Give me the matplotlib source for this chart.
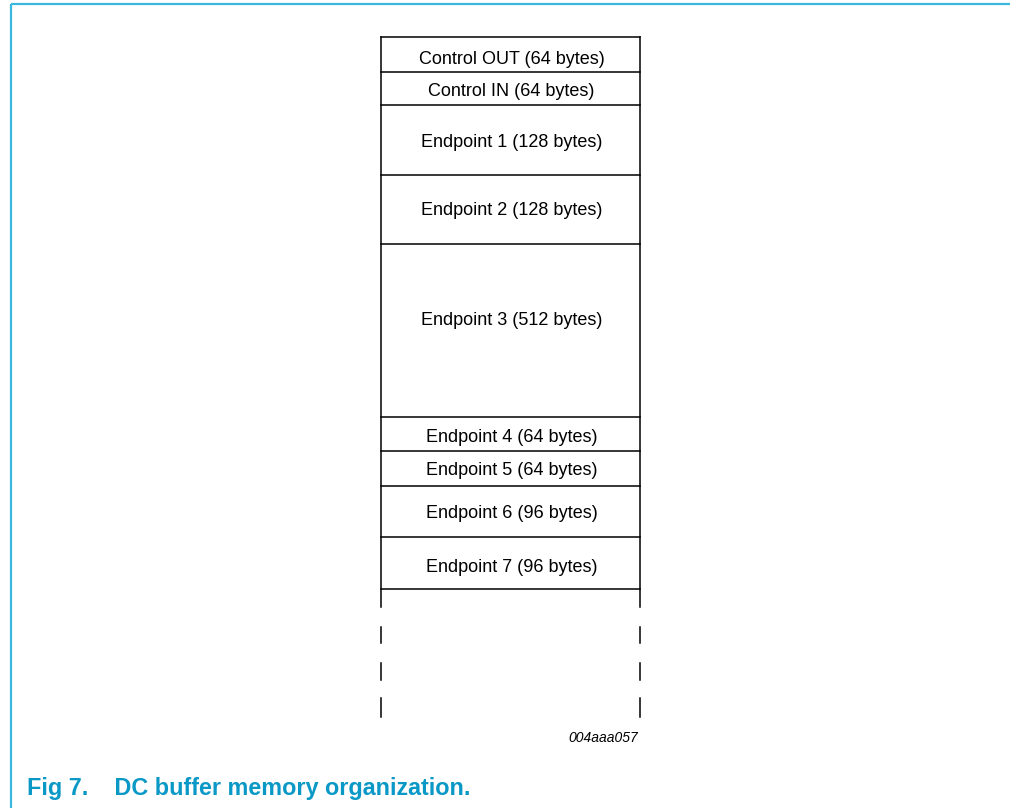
import matplotlib.pyplot as plt

plt.rcParams['font.family'] = ['Liberation Sans', 'DejaVu Sans']

# buffer segments, top to bottom
names = ['Control OUT', 'Control IN', 'Endpoint 1', 'Endpoint 2', 'Endpoint 3',
         'Endpoint 4', 'Endpoint 5', 'Endpoint 6', 'Endpoint 7']
sizes = [64, 64, 128, 128, 512, 64, 64, 96, 96]
diagram_id = '004aaa057'
caption = 'Fig 7.    DC buffer memory organization.'

# drawing layout in pixels (row boundaries and label baselines)
edges = [37, 71.5, 104.5, 174.5, 244, 416.5, 451, 486, 537, 588.5]
baselines = [63.5, 95.5, 147, 215, 325, 441.5, 475, 518, 571.5]
x0, x1 = 381, 640

BORDER = '#3bb8dd'
CAPTION = '#0a98c6'

fig = plt.figure(figsize=(10.1, 8.08), dpi=100)
ax = fig.add_axes([0, 0, 1, 1])
ax.set_xlim(0, 1010)
ax.set_ylim(808, 0)
ax.axis('off')

# page frame
ax.plot([11, 11], [4, 808], color=BORDER, lw=1.6, solid_capstyle='butt')
ax.plot([11, 1010], [4, 4], color=BORDER, lw=1.6, solid_capstyle='butt')

# memory box
for y in edges:
    ax.plot([x0, x1], [y, y], color='black', lw=1.1)
for x in (x0, x1):
    ax.plot([x, x], [edges[0], 607], color='black', lw=1.1)
    for ya, yb in [(627, 643), (663, 680), (698, 717)]:
        ax.plot([x, x], [ya, yb], color='black', lw=1.1)

for n, s, yb in zip(names, sizes, baselines):
    ax.text((x0 + x1) / 2 + 1, yb, f'{n} ({s} bytes)', ha='center', va='baseline',
            fontsize=13, color='black')

ax.text(638, 741.5, diagram_id, ha='right', va='baseline', fontsize=10,
        style='italic', color='black')

ax.text(27, 794.5, caption, ha='left', va='baseline', fontsize=16.8,
        fontweight='bold', color=CAPTION)

fig.savefig('out.png', dpi=100)
